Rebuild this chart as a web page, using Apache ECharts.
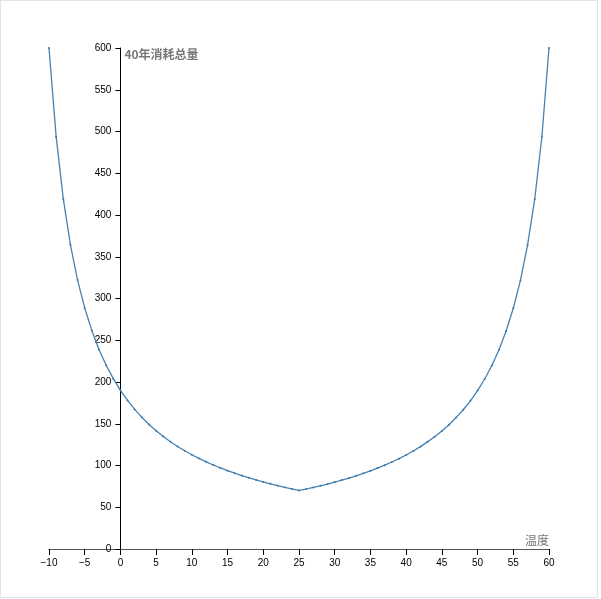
<!DOCTYPE html>
<html>
<head>
<meta charset="utf-8">
<script src="https://cdn.jsdelivr.net/npm/echarts@6/dist/echarts.min.js"></script>
<style>
  html, body { margin: 0; padding: 0; background: #fff; }
  .frame {
    position: absolute; left: 0; top: 0;
    width: 596px; height: 596px;
    border: 1px solid #e3e3e3;
  }
  #chart { position: absolute; left: 0; top: 0; width: 601px; height: 599px; }
</style>
</head>
<body>
<div class="frame"></div>
<div id="chart"></div>
<script>
// 温度 (x)
const temps = [
  -10, -9, -8, -7, -6, -5, -4, -3, -2, -1,
  0, 1, 2, 3, 4, 5, 6, 7, 8, 9,
  10, 11, 12, 13, 14, 15, 16, 17, 18, 19,
  20, 21, 22, 23, 24, 25, 26, 27, 28, 29,
  30, 31, 32, 33, 34, 35, 36, 37, 38, 39,
  40, 41, 42, 43, 44, 45, 46, 47, 48, 49,
  50, 51, 52, 53, 54, 55, 56, 57, 58, 59, 60
];
// 40年消耗总量 (y)
const totals = [
  600, 493.8, 419.3, 364.3, 322.1, 288.7, 261.5, 239.0, 220.1, 204.0,
  190.0, 177.9, 167.2, 157.7, 149.2, 141.6, 134.8, 128.5, 122.8, 117.6,
  112.9, 108.5, 104.4, 100.6, 97.1, 93.8, 90.8, 87.9, 85.2, 82.7,
  80.3, 78.0, 75.9, 73.9, 72.0, 70.1, 71.8, 73.7, 75.7, 77.8,
  80.1, 82.5, 85.0, 87.7, 90.6, 93.6, 96.9, 100.4, 104.2, 108.2,
  112.6, 117.4, 122.6, 128.3, 134.5, 141.3, 148.9, 157.4, 166.8, 177.5,
  189.7, 203.6, 219.7, 238.6, 261.1, 288.3, 321.7, 363.9, 418.9, 493.4, 600
];

const xName = '温度';
const yName = '40年消耗总量';

const chart = echarts.init(document.getElementById('chart'));
const labelFont = 'Liberation Sans, Arial, sans-serif';

// grid: x -10..60 over 500px, so x=0 sits 500/70*10 px right of the left edge
const gridLeft = 49, gridWidth = 500;
const yAxisShift = gridWidth / 70 * 10;

const option = {
  animation: false,
  grid: { left: gridLeft, right: 52, top: 48, bottom: 50, containLabel: false },
  xAxis: {
    type: 'value',
    min: -10,
    max: 60,
    interval: 5,
    name: xName,
    nameLocation: 'end',
    nameGap: 0,
    nameTextStyle: {
      color: '#777', fontSize: 12, align: 'right', verticalAlign: 'bottom',
      padding: [0, 0, 3, 0], fontFamily: 'Noto Sans CJK SC'
    },
    axisLine: { onZero: true, lineStyle: { color: '#555', width: 1 } },
    axisTick: { show: true, length: 6, lineStyle: { color: '#000' } },
    axisLabel: {
      margin: 9, fontSize: 10, color: '#000', fontFamily: labelFont,
      formatter: v => String(v).replace('-', '\u2212')
    },
    splitLine: { show: false }
  },
  yAxis: {
    type: 'value',
    min: 0,
    max: 600,
    interval: 50,
    offset: -yAxisShift,
    name: yName,
    nameLocation: 'end',
    nameGap: -6,
    nameTextStyle: {
      color: '#777', fontSize: 12, fontWeight: 'bold', align: 'left', verticalAlign: 'middle',
      padding: [0, 0, 0, 4], fontFamily: 'Noto Sans CJK SC'
    },
    axisLine: { show: true, onZero: false, lineStyle: { color: '#000', width: 1 } },
    axisTick: { show: true, length: 5, lineStyle: { color: '#000' } },
    axisLabel: { margin: 9, fontSize: 10, color: '#000', fontFamily: labelFont },
    splitLine: { show: false }
  },
  series: [
    {
      type: 'line',
      data: temps.map((t, i) => [t, totals[i]]),
      symbol: 'circle',
      symbolSize: 2,
      showAllSymbol: true,
      lineStyle: { color: '#4682b4', width: 1.3 },
      itemStyle: { color: '#41789f' }
    }
  ]
};

chart.setOption(option);
</script>
</body>
</html>
